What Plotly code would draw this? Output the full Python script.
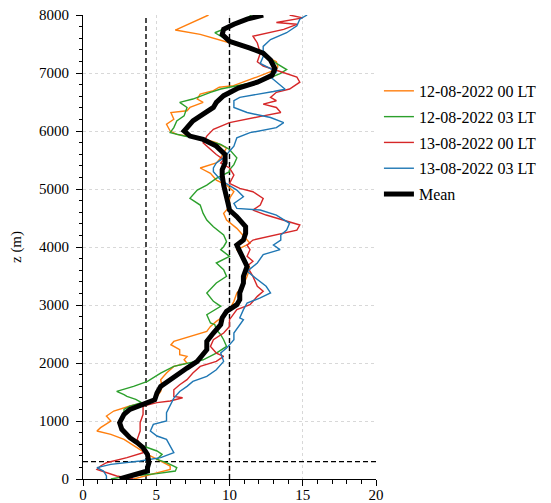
import plotly.graph_objects as go

# ---- data (wind speed m/s vs height z in m) ----
o_z = [8000, 7741, 7665, 7518, 7371, 7194, 7106, 7018, 6930, 6783, 6754, 6695, 6638, 6551, 6493, 6406, 6348, 6319, 6203, 6116, 6000, 5942, 5884, 5797, 5710, 5623, 5536, 5449, 5362, 5269, 5154, 5068, 4953, 4838, 4695, 4580, 4465, 4321, 4120, 4062, 4005, 3954, 3810, 3638, 3494, 3351, 3207, 3063, 2920, 2805, 2718, 2631, 2545, 2459, 2372, 2315, 2229, 2143, 2114, 2056, 1999, 1941, 1826, 1712, 1597, 1510, 1424, 1338, 1258, 1172, 1086, 1000, 885, 827, 770, 684, 540, 425, 310, 224, 166, 109, 52, 0]
o_v = [8.57, 6.3, 8.0, 10.05, 11.86, 13.2, 13.3, 12.77, 11.86, 10.27, 9.3, 8.9, 8.0, 7.8, 8.2, 7.3, 7.1, 6.0, 6.2, 5.7, 5.95, 6.4, 8.0, 9.1, 9.8, 9.6, 9.4, 9.1, 8.0, 8.7, 9.1, 9.8, 10.3, 10.0, 10.0, 9.6, 9.8, 10.5, 11.2, 11.4, 10.95, 10.5, 10.95, 11.4, 11.2, 10.95, 10.5, 10.3, 10.0, 9.6, 9.1, 8.7, 8.45, 7.3, 6.2, 6.0, 6.6, 6.6, 7.1, 6.9, 7.1, 6.2, 5.7, 5.3, 5.4, 5.3, 5.05, 4.6, 3.2, 2.1, 1.6, 1.9, 1.2, 0.95, 1.9, 2.8, 3.7, 4.4, 5.3, 5.95, 5.95, 5.05, 4.1, 3.45]

g_z = [8000, 7900, 7800, 7694, 7577, 7459, 7312, 7165, 7059, 6989, 6871, 6783, 6724, 6665, 6551, 6493, 6406, 6261, 6174, 6058, 5971, 5913, 5855, 5768, 5681, 5536, 5420, 5333, 5298, 5183, 5068, 4982, 4838, 4723, 4580, 4465, 4350, 4206, 4091, 4005, 3954, 3839, 3724, 3609, 3494, 3379, 3207, 3063, 2977, 2833, 2690, 2660, 2573, 2487, 2401, 2286, 2171, 2056, 1999, 1941, 1826, 1683, 1597, 1510, 1453, 1424, 1373, 1316, 1258, 1201, 1115, 971, 827, 684, 569, 483, 425, 339, 281, 195, 138, 92, 40, 0]
g_v = [11.5, 10.9, 10.0, 9.0, 9.8, 11.2, 12.5, 13.2, 13.9, 13.45, 12.3, 10.7, 9.4, 8.7, 7.5, 6.6, 7.1, 6.9, 6.4, 6.2, 5.95, 6.9, 8.2, 9.4, 10.0, 10.5, 10.3, 10.0, 10.0, 9.1, 8.45, 7.8, 7.3, 8.0, 8.2, 8.45, 8.9, 9.6, 9.8, 9.6, 9.4, 10.0, 9.1, 9.6, 9.8, 9.1, 8.45, 8.9, 9.4, 8.45, 8.7, 9.0, 9.1, 9.4, 9.6, 9.8, 9.1, 8.2, 7.3, 6.2, 5.3, 4.4, 3.45, 2.3, 2.8, 3.0, 3.6, 4.0, 3.2, 2.8, 2.8, 2.5, 2.8, 3.45, 4.1, 5.05, 5.4, 5.05, 5.7, 6.4, 6.3, 5.05, 2.8, 1.9]

r_z = [8000, 7950, 7870, 7840, 7753, 7635, 7518, 7341, 7194, 7120, 7047, 6930, 6842, 6724, 6667, 6580, 6522, 6464, 6406, 6319, 6261, 6203, 6145, 6029, 5913, 5797, 5681, 5594, 5507, 5449, 5362, 5241, 5097, 5011, 4953, 4838, 4723, 4637, 4551, 4436, 4379, 4292, 4206, 4120, 4034, 3954, 3839, 3753, 3667, 3494, 3322, 3236, 3149, 3006, 2920, 2747, 2631, 2516, 2401, 2286, 2171, 2114, 2028, 1941, 1826, 1712, 1625, 1539, 1424, 1400, 1345, 1316, 1258, 1115, 971, 827, 684, 540, 454, 368, 281, 224, 166, 109, 52, 0]
r_v = [14.1, 15.0, 13.2, 14.6, 13.7, 11.6, 11.9, 12.1, 11.9, 12.3, 13.2, 14.6, 14.8, 14.1, 13.2, 12.8, 13.2, 12.3, 13.2, 13.5, 12.3, 11.2, 10.0, 8.9, 8.45, 8.2, 8.7, 9.1, 9.6, 9.4, 10.0, 10.3, 10.0, 10.7, 11.6, 12.3, 12.1, 11.6, 12.5, 14.1, 14.8, 14.6, 13.2, 11.6, 11.2, 11.4, 11.2, 11.6, 11.2, 11.6, 11.9, 12.3, 11.9, 11.4, 10.5, 10.0, 10.0, 9.6, 8.9, 8.7, 9.1, 9.6, 9.1, 8.0, 7.5, 7.1, 6.6, 6.2, 6.2, 6.8, 5.95, 5.05, 4.1, 4.1, 3.9, 3.9, 3.7, 4.0, 4.1, 3.0, 1.6, 1.2, 0.95, 1.6, 2.3, 3.45]

b_z = [8000, 7929, 7812, 7694, 7577, 7459, 7282, 7165, 7077, 7018, 6930, 6783, 6720, 6680, 6580, 6522, 6406, 6319, 6232, 6145, 6058, 5971, 5884, 5739, 5652, 5536, 5449, 5362, 5298, 5154, 4982, 4867, 4752, 4666, 4637, 4551, 4407, 4292, 4206, 4120, 4034, 3954, 3868, 3724, 3580, 3437, 3322, 3207, 3121, 3034, 2920, 2776, 2746, 2516, 2401, 2257, 2171, 2028, 1884, 1769, 1683, 1597, 1510, 1395, 1258, 1143, 1000, 942, 827, 741, 684, 569, 454, 368, 310, 253, 195, 138, 52, 0]
b_v = [15.3, 14.8, 14.6, 13.9, 12.8, 12.3, 12.3, 12.1, 12.8, 13.2, 12.8, 13.5, 13.8, 13.0, 10.7, 10.3, 10.3, 11.2, 12.8, 13.7, 13.2, 11.4, 10.5, 10.3, 10.0, 9.6, 9.1, 8.9, 8.9, 9.4, 10.5, 10.95, 10.3, 10.5, 12.1, 13.2, 14.1, 13.9, 13.5, 13.5, 13.0, 13.45, 12.3, 11.9, 11.2, 11.9, 12.5, 12.8, 12.1, 11.2, 10.95, 10.7, 10.95, 10.3, 10.3, 9.8, 9.4, 9.6, 9.1, 8.45, 7.5, 7.1, 6.6, 6.2, 5.95, 5.7, 5.7, 4.8, 4.6, 5.05, 5.7, 5.95, 6.2, 5.3, 3.9, 1.9, 0.95, 1.4, 1.6, 1.6]

m_z = [8000, 7929, 7841, 7753, 7665, 7547, 7430, 7341, 7224, 7077, 6959, 6842, 6740, 6609, 6493, 6406, 6290, 6174, 6000, 5913, 5855, 5739, 5594, 5449, 5333, 5241, 5068, 4896, 4752, 4637, 4522, 4350, 4235, 4120, 4034, 3925, 3810, 3667, 3494, 3379, 3207, 3092, 3006, 2891, 2776, 2661, 2516, 2372, 2229, 2143, 2028, 1913, 1798, 1683, 1597, 1482, 1367, 1316, 1201, 1115, 971, 856, 712, 626, 540, 425, 281, 195, 138, 69, 0]
m_v = [12.3, 11.2, 10.3, 9.6, 9.5, 10.0, 11.4, 12.3, 12.8, 13.1, 12.9, 11.9, 10.6, 9.6, 9.1, 8.9, 8.2, 7.5, 6.9, 7.3, 8.2, 9.1, 9.7, 9.7, 9.5, 9.5, 9.6, 9.8, 9.9, 10.0, 10.5, 11.1, 11.1, 10.95, 10.5, 10.7, 10.95, 11.2, 10.95, 10.95, 10.7, 10.7, 10.5, 9.8, 9.5, 9.4, 8.9, 8.45, 8.45, 8.2, 7.8, 7.1, 6.4, 5.7, 5.3, 5.05, 4.9, 4.4, 3.2, 2.8, 2.5, 2.65, 3.2, 3.7, 4.1, 4.4, 4.5, 4.4, 4.4, 3.45, 2.5]

ref_x = [4.3, 10.0]   # vertical dashed reference lines
ref_z = 300           # horizontal dashed reference line

names = ["12-08-2022 00 LT", "12-08-2022 03 LT", "13-08-2022 00 LT", "13-08-2022 03 LT", "Mean"]
colors = ["#ff7f0e", "#2ca02c", "#d62728", "#1f77b4", "#000000"]
series = [(o_v, o_z), (g_v, g_z), (r_v, r_z), (b_v, b_z), (m_v, m_z)]

FONT = "Liberation Serif"

fig = go.Figure()
for i, ((v, z), nm, c) in enumerate(zip(series, names, colors)):
    fig.add_trace(go.Scatter(
        x=v, y=z, mode="lines", name=nm, legendgroup=f"g{i}",
        line=dict(color=c, width=5 if nm == "Mean" else 1.4),
    ))

for xv in ref_x:
    fig.add_shape(type="line", xref="x", yref="y", x0=xv, x1=xv, y0=0, y1=8000,
                  line=dict(color="black", width=1.4, dash="5px,3px"), layer="between")
fig.add_shape(type="line", xref="x", yref="y", x0=0, x1=20, y0=ref_z, y1=ref_z,
              line=dict(color="black", width=1.4, dash="5px,3px"), layer="between")

axis_common = dict(
    showline=True, linecolor="black", linewidth=1, mirror=False,
    ticks="outside", ticklen=6, tickcolor="black", tickwidth=1,
    showgrid=True, gridcolor="#d8d8d8", griddash="dot", gridwidth=0.8,
    zeroline=False, tickfont=dict(family=FONT, size=15, color="black"),
    ticklabeloverflow="allow",
)

fig.update_xaxes(range=[0, 20], tickmode="linear", tick0=0, dtick=5,
                 minor=dict(dtick=1, ticks="outside", ticklen=3.5, tickcolor="black", showgrid=False),
                 ticklabelstandoff=-4,
                 **axis_common)
fig.update_yaxes(range=[0, 8000], tickmode="linear", tick0=0, dtick=1000,
                 minor=dict(dtick=200, ticks="outside", ticklen=3.5, tickcolor="black", showgrid=False),
                 title=dict(text="z (m)", font=dict(family=FONT, size=15, color="black"), standoff=14),
                 ticklabelstandoff=4,
                 **axis_common)

fig.update_layout(
    width=543, height=495,
    margin=dict(l=75, r=175, t=7, b=24, autoexpand=False),
    plot_bgcolor="white", paper_bgcolor="white",
    font=dict(family=FONT, size=15, color="black"),
    legend=dict(x=1.01, xanchor="left", y=0.873, yanchor="top",
                font=dict(family=FONT, size=16, color="black"),
                tracegroupgap=2, bgcolor="rgba(0,0,0,0)"),
    showlegend=True,
)

fig.write_html("out.html")
